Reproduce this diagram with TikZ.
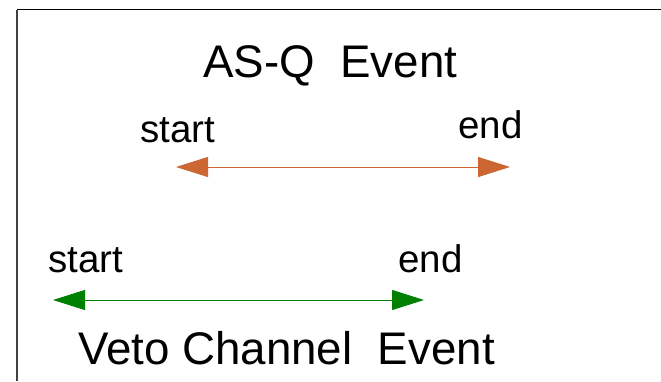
\documentclass[tikz,border=0pt]{standalone}
\usepackage{fontspec}
\setmainfont{Liberation Sans}
\usetikzlibrary{arrows.meta}
\definecolor{asqorange}{RGB}{204,102,51}
\definecolor{vetogreen}{RGB}{0,128,0}
\begin{document}
\begin{tikzpicture}[x=1pt,y=1pt,
  title/.style={anchor=base west,inner sep=0pt,font=\fontsize{45.7}{50}\selectfont},
  lbl/.style={anchor=base west,inner sep=0pt,font=\fontsize{38.5}{42}\selectfont},
  span/.style={line width=1pt,{Triangle[length=32pt,width=20pt]}-{Triangle[length=32pt,width=20pt]}}]
\useasboundingbox (0,0) rectangle (661,381);
\fill[white] (0,0) rectangle (661,381);
% frame
\coordinate (fb) at (17,0);
\coordinate (ftl) at (17,371);
\coordinate (ftr) at (661,371);
\draw[line width=1.6pt,black!75] (fb) -- (ftl);
\draw[line width=1pt] (ftl) -- (ftr);
% texts
\node[title] (asq) at (203,303) {AS-Q\ \ Event};
\node[lbl] (s1) at (140,239) {start};
\node[lbl] (e1) at (458,243) {end};
\node[lbl] (s2) at (48,109) {start};
\node[lbl] (e2) at (398,109) {end};
\node[title] (veto) at (78,17) {Veto Channel\ \ Event};
% arrows
\coordinate (o1) at (176,214);
\coordinate (o2) at (510,214);
\coordinate (g1) at (53,81);
\coordinate (g2) at (424,81);
\draw[span,draw=asqorange,fill=asqorange] (o1) -- (o2);
\draw[span,draw=vetogreen,fill=vetogreen] (g1) -- (g2);
\end{tikzpicture}
\end{document}
